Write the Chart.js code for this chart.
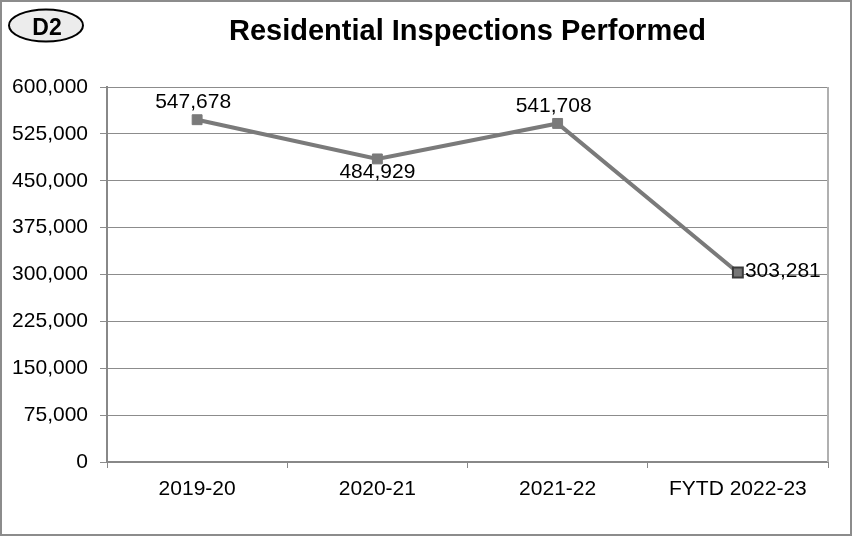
<!DOCTYPE html>
<html lang="en">
<head>
    <meta charset="UTF-8">
    <script src="https://cdn.jsdelivr.net/npm/chart.js"></script>
    <title>Residential Inspections Performed</title>
    <style>
        body { margin: 0; background: #fff; }
        #wrap { width: 852px; height: 536px; position: relative; }
    </style>
</head>
<body>
    <div id="wrap">
        <canvas id="myChart" width="852" height="536"></canvas>
    </div>
    <script>
        // 데이터
        const labels = ['2019-20', '2020-21', '2021-22', 'FYTD 2022-23'];
        const inspections = [547678, 484929, 541708, 303281];
        const yTicks = [0, 75000, 150000, 225000, 300000, 375000, 450000, 525000, 600000];
        const labelPos = ['above', 'below', 'above', 'right'];

        const fmt = v => v.toLocaleString('en-US');
        const FONT = 'Arial, "Liberation Sans", sans-serif';

        // 제목, D2 배지, 테두리
        const decor = {
            id: 'decor',
            afterDraw(chart) {
                const c = chart.ctx;
                const a = chart.chartArea;
                c.save();
                // 바깥 테두리
                c.strokeStyle = '#8c8c8c';
                c.lineWidth = 2;
                c.strokeRect(1, 1, chart.width - 2, chart.height - 2);
                // 오른쪽 테두리
                c.strokeStyle = '#b0b0b0';
                c.lineWidth = 2;
                c.beginPath();
                c.moveTo(a.right, a.top);
                c.lineTo(a.right, a.bottom);
                c.stroke();
                // D2 배지
                c.beginPath();
                c.ellipse(46, 25.5, 37, 16, 0, 0, Math.PI * 2);
                c.fillStyle = '#ececec';
                c.fill();
                c.strokeStyle = '#000';
                c.lineWidth = 2;
                c.stroke();
                c.fillStyle = '#000';
                c.font = 'bold 23px ' + FONT;
                c.textAlign = 'center';
                c.textBaseline = 'middle';
                c.fillText('D2', 47, 29);
                // 제목
                c.font = 'bold 29px ' + FONT;
                c.fillText('Residential Inspections Performed', (a.left + a.right) / 2, 32);
                c.restore();
            }
        };

        // 데이터 라벨
        const dataLabels = {
            id: 'dataLabels',
            afterDatasetsDraw(chart) {
                const c = chart.ctx;
                const meta = chart.getDatasetMeta(0);
                c.save();
                c.fillStyle = '#000';
                c.font = '21px ' + FONT;
                c.textBaseline = 'middle';
                meta.data.forEach((pt, i) => {
                    const txt = fmt(inspections[i]);
                    const pos = labelPos[i];
                    if (pos === 'above') {
                        c.textAlign = 'center';
                        c.fillText(txt, pt.x - 4, pt.y - 17);
                    } else if (pos === 'below') {
                        c.textAlign = 'center';
                        c.fillText(txt, pt.x, pt.y + 13);
                    } else {
                        c.textAlign = 'left';
                        c.fillText(txt, pt.x + 7, pt.y - 1);
                    }
                });
                c.restore();
            }
        };

        let ctx = document.getElementById('myChart');
        let myChart = new Chart(ctx, {
            type: 'line',
            data: {
                labels: labels,
                datasets: [{
                    label: 'Residential Inspections',
                    data: inspections,
                    borderColor: '#7a7a7a',
                    borderWidth: 4,
                    pointStyle: 'rect',
                    pointRadius: 7,
                    pointBackgroundColor: ['#7a7a7a', '#7a7a7a', '#7a7a7a', '#767676'],
                    pointBorderColor: ['#7a7a7a', '#7a7a7a', '#7a7a7a', '#3a3a3a'],
                    pointBorderWidth: [1, 1, 1, 2],
                    tension: 0
                }]
            },
            options: {
                responsive: false,
                animation: false,
                layout: { padding: { top: 87, right: 24, left: 0, bottom: 0 } },
                plugins: {
                    legend: { display: false },
                    tooltip: { enabled: false }
                },
                scales: {
                    x: {
                        offset: true,
                        grid: { offset: true, drawOnChartArea: false, drawTicks: true, tickLength: 6, color: '#888' },
                        border: { color: '#888', width: 2 },
                        ticks: { color: '#000', font: { size: 21, family: FONT }, padding: 9, maxRotation: 0 },
                        afterFit(s) { s.height = 74; }
                    },
                    y: {
                        min: 0,
                        max: 600000,
                        afterBuildTicks(s) { s.ticks = yTicks.map(v => ({ value: v })); },
                        grid: { color: '#8c8c8c', tickLength: 7 },
                        border: { color: '#888', width: 2 },
                        ticks: { color: '#000', font: { size: 21, family: FONT }, padding: 12, callback: v => fmt(v) },
                        afterFit(s) { s.width = 107; }
                    }
                }
            },
            plugins: [dataLabels, decor]
        });
    </script>
</body>
</html>
